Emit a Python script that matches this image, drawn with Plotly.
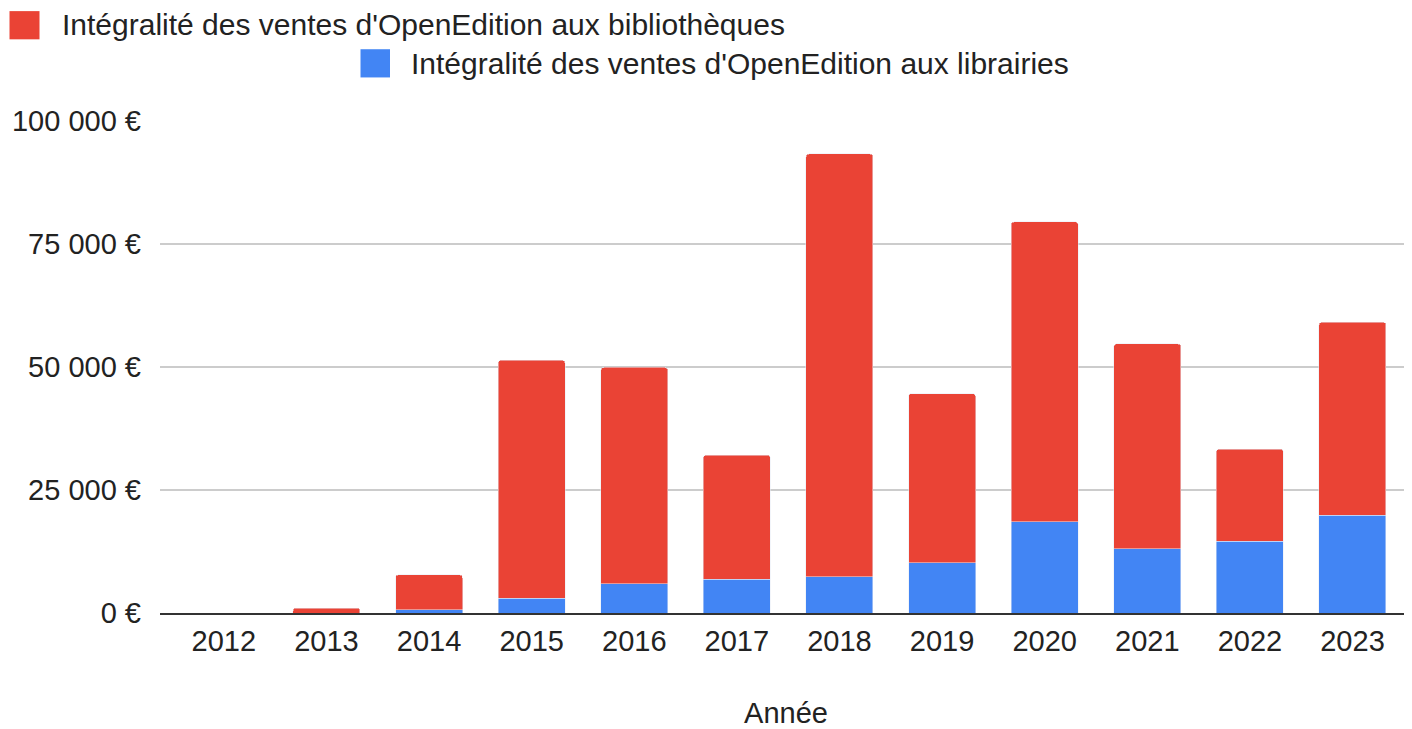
import plotly.graph_objects as go

years = ["2012", "2013", "2014", "2015", "2016", "2017", "2018", "2019", "2020", "2021", "2022", "2023"]
librairies = [0, 0, 700, 3000, 5900, 6900, 7400, 10200, 18500, 13100, 14600, 19900]
bibliotheques = [0, 1000, 7050, 48350, 44000, 25200, 85900, 34400, 61000, 41600, 18700, 39200]

name_bib = "Intégralité des ventes d'OpenEdition aux bibliothèques"
name_lib = "Intégralité des ventes d'OpenEdition aux librairies"

y_tickvals = [0, 25000, 50000, 75000, 100000]
y_ticktext = ["0 €", "25 000 €", "50 000 €", "75 000 €", "100 000 €"]

RED = "#EA4335"
BLUE = "#4285F4"
TEXT = "#222222"
FONT = "Arial, 'Liberation Sans', sans-serif"
FS = 29
FS_LEG = 30

# page body has an 8px margin: figure occupies window pixels 8..1412 x 8..729
OFF = 8
W, H = 1412 - OFF, 729 - OFF
ML, MR, MT, MB = 160 - OFF, 0, 121 - OFF, 111
PW, PH = W - ML - MR, H - MT - MB


def px_x(px):
    # px given in window coordinates
    return (px - OFF - ML) / PW


def px_y(py):
    return (H - MB - (py - OFF)) / PH


fig = go.Figure()
fig.add_trace(go.Bar(x=years, y=librairies, name=name_lib, marker_color=BLUE,
                     showlegend=False))
fig.add_trace(go.Bar(x=years, y=bibliotheques, name=name_bib, marker_color=RED,
                     showlegend=False))

# manual legend (squares + real text), window-pixel positions
legend_items = [
    (RED, name_bib, 9.5, 10, 39.5, 38.5, 60, 24),
    (BLUE, name_lib, 360.5, 48.5, 390, 77, 409, 62.5),
]
shapes = []
annotations = []
for color, label, x0, y0, x1, y1, tx, ty in legend_items:
    shapes.append(dict(type="rect", xref="paper", yref="paper",
                       x0=px_x(x0), x1=px_x(x1), y0=px_y(y1), y1=px_y(y0),
                       fillcolor=color, line=dict(width=0), layer="above"))
    annotations.append(dict(text=label, xref="paper", yref="paper",
                            x=px_x(tx), y=px_y(ty), xanchor="left", yanchor="middle",
                            showarrow=False, font=dict(family=FONT, size=FS_LEG, color=TEXT)))

fig.update_layout(
    width=W, height=H,
    margin=dict(l=ML, r=MR, t=MT, b=MB, pad=0),
    paper_bgcolor="white", plot_bgcolor="white",
    barmode="stack", bargap=0.347, barcornerradius=3,
    font=dict(family=FONT, size=FS, color=TEXT),
    shapes=shapes, annotations=annotations,
    showlegend=False,
)
fig.update_xaxes(
    type="category", range=[-0.622, 11.58],
    showline=True, linecolor="#333333", linewidth=2,
    showgrid=False, ticks="", ticklabelstandoff=1,
    tickfont=dict(family=FONT, size=FS, color=TEXT),
    title=dict(text="Année", font=dict(family=FONT, size=FS, color=TEXT), standoff=52),
)
fig.update_yaxes(
    range=[0, 100000], tickvals=y_tickvals, ticktext=y_ticktext,
    showgrid=True, gridcolor="#CCCCCC", gridwidth=2,
    zeroline=False, showline=False, ticks="", ticklabelstandoff=18,
    tickfont=dict(family=FONT, size=FS, color=TEXT),
)

fig.write_html("out.html")
